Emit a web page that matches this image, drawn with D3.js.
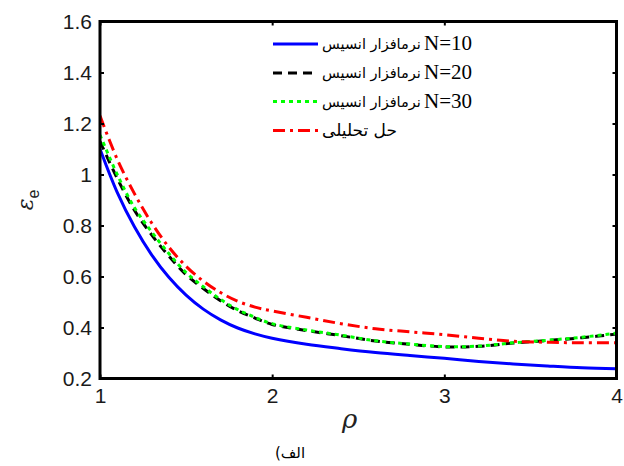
<!DOCTYPE html>
<html><head><meta charset="utf-8">
<script src="https://cdn.jsdelivr.net/npm/d3@7"></script>
<style>body{margin:0;background:#fff}svg{display:block}</style>
</head><body>
<svg id="c" width="624" height="466"></svg>
<script>
const rho = [1.0,1.1,1.2,1.3,1.4,1.5,1.6,1.7,1.8,1.9,2.0,2.2,2.4,2.6,2.8,3.0,3.2,3.4,3.6,3.8,4.0];
const ansysN10 = [1.10,0.93,0.795,0.685,0.597,0.527,0.472,0.43,0.398,0.375,0.358,0.334,0.317,0.302,0.29,0.279,0.267,0.257,0.249,0.242,0.238];
const ansysN20 = [1.13,0.985,0.86,0.763,0.68,0.607,0.553,0.505,0.466,0.437,0.412,0.388,0.368,0.347,0.334,0.324,0.326,0.339,0.349,0.36,0.374];
const ansysN30 = [1.155,1.0,0.87,0.775,0.69,0.615,0.56,0.51,0.47,0.44,0.415,0.39,0.37,0.348,0.335,0.325,0.327,0.34,0.35,0.362,0.378];
const analytic = [1.23,1.06,0.925,0.81,0.715,0.64,0.582,0.537,0.503,0.48,0.465,0.44,0.415,0.395,0.383,0.372,0.358,0.346,0.342,0.34,0.34];
const xTicks = [1,2,3,4];
const yTicks = [0.2,0.4,0.6,0.8,1.0,1.2,1.4,1.6];
const yTickLabels = ["0.2","0.4","0.6","0.8","1","1.2","1.4","1.6"];
const seriesNames = ["N=10","N=20","N=30"];
const arabicLabel = "نرمافزار انسیس";
const analyticLabel = "حل تحلیلی";
const caption = "(الف";

const svg = d3.select("#c");
const L=100, R=616.5, T=21.5, B=378.5;
const x = d3.scaleLinear().domain([1,4]).range([L,R]);
const y = d3.scaleLinear().domain([0.2,1.6]).range([B,T]);

const series = [
  {v:ansysN10, color:"#0000ff", dash:null, label:seriesNames[0]},
  {v:ansysN20, color:"#000000", dash:"9,6", label:seriesNames[1]},
  {v:ansysN30, color:"#00ff00", dash:"4,4", label:seriesNames[2]},
  {v:analytic, color:"#ff0000", dash:"12,5,3,5", label:null}
];
const line = d3.line().x((d,i)=>x(rho[i])).y(d=>y(d)).curve(d3.curveCatmullRom.alpha(0.5));
const g = svg.append("g");
g.append("clipPath").attr("id","clip").append("rect").attr("x",L).attr("y",T).attr("width",R-L).attr("height",B-T);
series.forEach(s=>{
  g.append("path").datum(s.v).attr("d",line).attr("fill","none")
   .attr("stroke",s.color).attr("stroke-width",3)
   .attr("stroke-dasharray",s.dash).attr("clip-path","url(#clip)");
});

// axes with inward ticks
const fs = "Liberation Sans, Arial, sans-serif";
const ax = g.append("g");
ax.append("g").attr("transform",`translate(0,${B})`).call(d3.axisBottom(x).tickValues(xTicks).tickSize(-4).tickPadding(10).tickFormat(d3.format("d")));
ax.append("g").attr("transform",`translate(0,${T})`).call(d3.axisTop(x).tickValues(xTicks).tickSize(-4).tickFormat(""));
ax.append("g").attr("transform",`translate(${L},0)`).call(d3.axisLeft(y).tickValues(yTicks).tickSize(-4).tickPadding(8).tickFormat((d,i)=>yTickLabels[i]));
ax.append("g").attr("transform",`translate(${R},0)`).call(d3.axisRight(y).tickValues(yTicks).tickSize(-4).tickFormat(""));
ax.selectAll(".domain").remove();
ax.selectAll(".tick line").attr("stroke","#000").attr("stroke-width",2);
ax.selectAll(".tick text").attr("font-family",fs).attr("font-size",21).attr("fill","#1a1a1a");
g.append("rect").attr("x",L).attr("y",T).attr("width",R-L).attr("height",B-T)
 .attr("fill","none").attr("stroke","#000").attr("stroke-width",3);

// axis labels
const yl = svg.append("text").attr("transform","translate(33,200) rotate(-90)")
  .attr("font-family","DejaVu Serif, serif").attr("font-style","italic").attr("font-size",22).attr("fill","#222").attr("text-anchor","middle");
yl.append("tspan").text("ε");
yl.append("tspan").attr("font-size",16).attr("font-style","normal").attr("font-family",fs).attr("dy",6).text("e");
svg.append("text").attr("x",x(2.45)).attr("y",428).attr("text-anchor","middle")
  .attr("font-family","DejaVu Serif, serif").attr("font-style","italic").attr("font-size",26).attr("fill","#222").text("ρ");
svg.append("text").attr("x",290).attr("y",458).attr("text-anchor","middle")
  .attr("font-family","DejaVu Sans, sans-serif").attr("font-size",15).attr("fill","#000").text(caption);

// legend
const legY = [44,73,101.5,130.5];
const lg = svg.append("g");
function fitText(t, targetW){
  const w = t.node().getBBox().width;
  const f = +t.attr("font-size");
  t.attr("font-size", f*targetW/w);
}
series.forEach((s,i)=>{
  lg.append("line").attr("x1",273).attr("x2",318).attr("y1",legY[i]).attr("y2",legY[i])
    .attr("stroke",s.color).attr("stroke-width",3).attr("stroke-dasharray",s.dash);
  if(s.label){
    const n = lg.append("text").attr("x",472).attr("y",legY[i]+6).attr("text-anchor","end")
      .attr("font-family","Liberation Serif, Times New Roman, serif").attr("font-size",21).attr("fill","#000").text(s.label);
    const nStart = n.node().getBBox().x;
    const a = lg.append("text").attr("x",322).attr("y",legY[i]+5).attr("text-anchor","start")
      .attr("font-family","DejaVu Sans, sans-serif").attr("font-size",16).attr("fill","#000").text(arabicLabel);
    fitText(a, nStart - 3 - 322);
  } else {
    const a = lg.append("text").attr("x",322).attr("y",legY[i]+5).attr("text-anchor","start")
      .attr("font-family","DejaVu Sans, sans-serif").attr("font-size",16).attr("fill","#000").text(analyticLabel);
    fitText(a, 75);
  }
});
</script>
</body></html>
